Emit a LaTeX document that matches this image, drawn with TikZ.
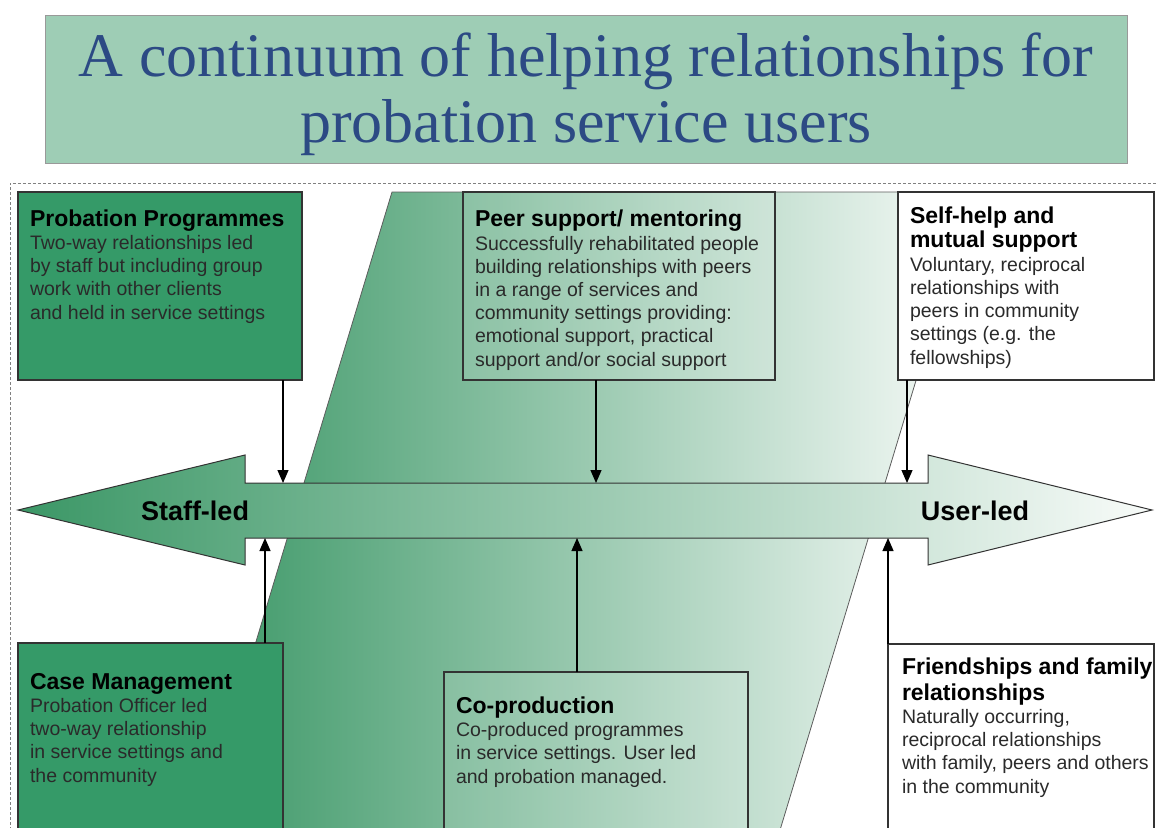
\documentclass[tikz,border=0pt]{standalone}
\usepackage{fontspec}
\setmainfont{Liberation Sans}
\newfontfamily\titlefont{Liberation Serif}
\usetikzlibrary{arrows.meta}
\definecolor{titlefill}{HTML}{9ECDB5}
\definecolor{titletext}{HTML}{2C4A84}
\definecolor{darkgreen}{HTML}{359A68}
\definecolor{gstart}{HTML}{3B9766}
\definecolor{gmid}{HTML}{B0CEBD}
\definecolor{gend}{HTML}{F8FBF9}
\definecolor{edge}{HTML}{333333}
\definecolor{bodytext}{HTML}{2A2A2A}
\newcommand{\hd}[1]{{\fontsize{23}{23.5}\selectfont\bfseries\color{black}#1}}
\begin{document}
\begin{tikzpicture}[x=1pt,y=-1pt,
 box/.style={draw=edge, line width=1.1pt, inner sep=0pt, outer sep=0pt, anchor=north west},
 txt/.style={anchor=base west, inner sep=0pt, outer sep=0pt, align=left, text=bodytext, font=\fontsize{19.5}{23.2}\selectfont},
 conn/.style={draw=black, line width=1.2pt, -{Triangle[length=13pt,width=11pt]}},
 endlabel/.style={anchor=base, inner sep=0pt, font=\fontsize{27}{27}\selectfont\bfseries, text=black},
 fade/.style={left color=gstart, middle color=gmid, right color=gend},
]
\useasboundingbox (0,0) rectangle (1156,827);
\begin{scope}
\clip (0,0) rectangle (1156,827);
% dashed frame
\draw[gray, dash pattern=on 3pt off 2pt, line width=1pt] (10,840) -- (10,183) -- (1170,183);
% background parallelogram
\path[draw=edge!80, line width=0.8pt, fade]
  (392,192) -- (973,192) -- (777,840) -- (196,840) -- cycle;
% title
\node[draw=gray!80, line width=1pt, fill=titlefill, anchor=north west, inner sep=0pt,
      minimum width=1082pt, minimum height=148pt] (tb) at (45,15) {};
\node[anchor=base, inner sep=0pt, align=center, text=titletext,
      font=\titlefont\fontsize{62}{66}\selectfont] (title) at (586,142)
  {A continuum of helping relationships for\\probation service users};
% double arrow
\path[draw=edge, line width=1pt, fade]
  (18,510) -- (245,455) -- (245,483) -- (928,483) -- (928,455) -- (1152,510)
  -- (928,565) -- (928,538) -- (245,538) -- (245,565) -- cycle;
\node[endlabel] (staff) at (195,520) {Staff-led};
\node[endlabel] (user) at (975,520) {User-led};
\coordinate (a1) at (283,483);
\coordinate (a2) at (596,483);
\coordinate (a3) at (907,483);
\coordinate (b1) at (265,538);
\coordinate (b2) at (577,538);
\coordinate (b3) at (888,538);
% boxes
\node[box, fill=darkgreen, minimum width=284pt, minimum height=188pt] (pp) at (18,192) {};
\node[box, fill=white, fill opacity=0.12, minimum width=312pt, minimum height=188pt] (peer) at (463,192) {};
\node[box, fill=white, minimum width=256pt, minimum height=188pt] (self) at (898,192) {};
\node[box, fill=darkgreen, minimum width=265pt, minimum height=220pt] (cm) at (18,643) {};
\node[box, fill=white, fill opacity=0.12, minimum width=304pt, minimum height=220pt] (cop) at (444,672) {};
\node[box, fill=white, minimum width=266pt, minimum height=220pt] (fr) at (888,644) {};
% connectors
\draw[conn] (pp.south -| a1) -- (a1);
\draw[conn] (peer.south -| a2) -- (a2);
\draw[conn] (self.south -| a3) -- (a3);
\draw[conn] (cm.north -| b1) -- (b1);
\draw[conn] (cop.north -| b2) -- (b2);
\draw[conn] (fr.north -| b3) -- (b3);
% texts (anchored at the baseline of their last line)
\node[txt] (ppt) at (30,319) {\hd{Probation Programmes}\\Two-way relationships led\\by staff but including group\\work with other clients\\and held in service settings};
\node[txt] (peert) at (475,366) {\hd{Peer support/ mentoring}\\Successfully rehabilitated people\\building relationships with peers\\in a range of services and\\community settings providing:\\emotional support, practical\\support and/or social support};
\node[txt] (selft) at (910,364) {\hd{Self-help and}\\[0.5pt]\hd{mutual support}\\[1pt]Voluntary, reciprocal\\relationships with\\peers in community\\settings (e.g. the\\fellowships)};
\node[txt] (cmt) at (30,782) {\hd{Case Management}\\Probation Officer led\\two-way relationship\\in service settings and\\the community};
\node[txt] (copt) at (456,783) {\hd{Co-production}\\Co-produced programmes\\in service settings. User led\\and probation managed.};
\node[txt] (frt) at (902,793) {\hd{Friendships and family}\\[3pt]\hd{relationships}\\Naturally occurring,\\reciprocal relationships\\with family, peers and others\\in the community};
\end{scope}
\end{tikzpicture}
\end{document}
